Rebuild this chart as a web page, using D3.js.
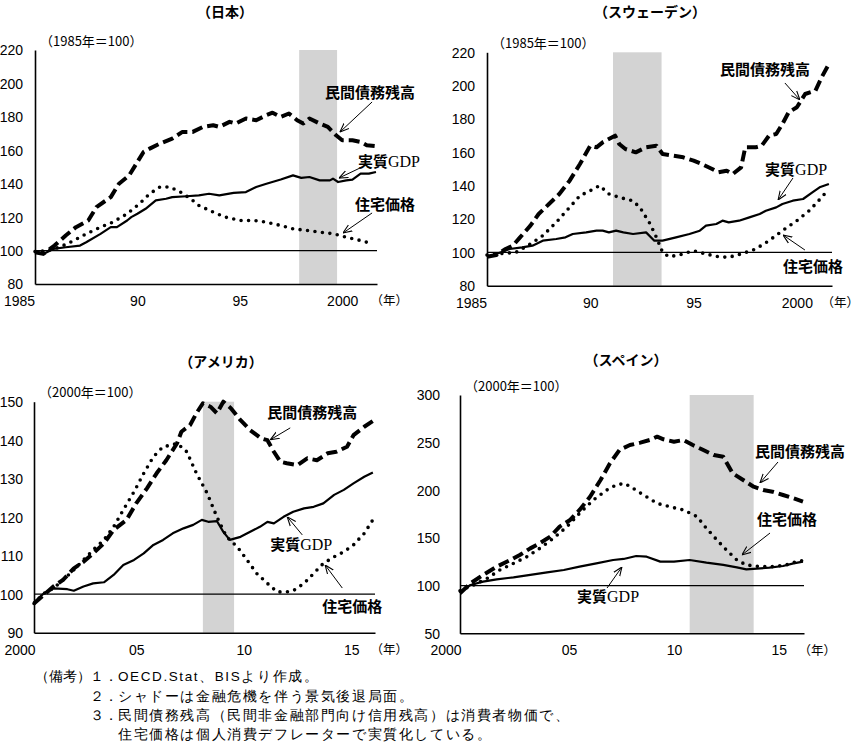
<!DOCTYPE html>
<html>
<head>
<meta charset="utf-8">
<script src="https://cdn.jsdelivr.net/npm/d3@7"></script>
<style>
body{margin:0;background:#fff;}
svg text{font-family:"Liberation Sans",Arial,sans-serif;}
.jp{font-family:"Noto Sans CJK JP",sans-serif;}
</style>
</head>
<body>
<script>
// 日本 (1985=100)
var jpDebt = [[1985.0,99],[1985.4,98],[1985.95,103],[1986.5,109],[1987.0,114],[1987.6,118],[1988.0,126],[1988.7,132],[1989.1,140],[1989.6,145],[1990.3,159],[1990.6,161],[1991.1,164],[1991.7,167],[1992.2,171],[1992.7,171],[1993.2,174],[1993.7,175],[1994.0,174],[1994.5,177],[1994.8,176],[1995.3,179],[1995.8,178],[1996.3,181],[1996.6,182.5],[1997.0,180],[1997.4,182],[1997.8,178],[1998.1,176],[1998.4,179],[1998.9,176],[1999.3,174],[1999.7,169],[2000.0,166],[2000.5,166],[2000.9,165],[2001.2,163],[2001.6,162.5]];
var jpGdp = [[1985.0,99.4],[1985.4,98],[1985.9,101],[1986.5,102],[1987.2,103],[1987.5,105],[1988.2,110],[1988.7,114],[1989.0,114],[1989.5,118],[1989.7,120],[1990.0,122],[1990.4,125],[1990.9,130],[1991.4,131],[1991.7,132],[1992.4,132.5],[1993.0,133],[1993.5,134],[1994.0,133],[1994.7,134.5],[1995.3,135],[1995.8,138],[1996.3,140],[1997.0,142.5],[1997.6,145],[1998.0,143.5],[1998.4,144],[1998.9,142],[1999.4,142],[1999.55,143],[1999.8,141],[2000.2,142],[2000.5,142.5],[2000.9,146],[2001.3,146],[2001.65,147]];
var jpHouse = [[1985.0,99.4],[1985.6,100],[1986.2,102],[1986.9,106],[1987.5,110],[1988.2,114],[1988.8,117],[1989.5,122],[1990.1,128],[1990.6,134],[1991.1,138],[1991.6,138],[1992.1,135],[1992.6,131],[1993.0,127],[1993.7,123],[1994.3,120],[1995.0,118],[1995.7,118],[1996.3,117],[1997.0,115],[1997.6,113],[1998.3,112],[1998.9,111],[1999.6,110],[2000.2,108],[2000.9,106],[2001.5,104]];
var jpShade = [1997.9, 1999.75];

// スウェーデン (1985=100)
var seDebt = [[1985.0,97.4],[1985.45,98.4],[1985.9,102],[1986.25,104],[1986.6,109],[1987.1,116],[1987.5,123],[1988.0,129],[1988.5,135],[1989.0,143],[1989.5,153],[1990.0,164],[1990.3,163],[1990.6,166],[1991.2,170],[1991.4,165],[1991.7,162],[1992.2,160],[1992.7,163],[1993.2,164],[1993.5,159],[1994.0,158],[1994.5,157],[1995.0,155],[1995.4,153],[1995.9,150],[1996.2,148],[1996.6,149],[1996.9,147],[1997.3,151],[1997.5,163],[1998.0,163],[1998.3,164],[1998.65,170],[1999.0,171],[1999.3,177],[1999.6,184],[2000.0,187],[2000.4,195],[2000.9,197],[2001.2,205],[2001.55,213]];
var seGdp = [[1985.0,97.4],[1985.45,99],[1986.1,102],[1986.7,103],[1987.2,104],[1987.7,107],[1988.35,108],[1988.8,109],[1989.15,111],[1989.8,112],[1990.3,113],[1990.6,113],[1990.9,112],[1991.25,113],[1991.6,112],[1992.07,111],[1992.7,112],[1993.1,107],[1993.5,107],[1994.15,109],[1994.8,111],[1995.3,113],[1995.6,116],[1996.1,117],[1996.4,119],[1996.7,118],[1997.2,119],[1997.7,121],[1998.2,123],[1998.5,125],[1999.0,127],[1999.3,129],[1999.8,131],[2000.3,132],[2000.75,136],[2001.1,139],[2001.55,141]];
var seHouse = [[1985.0,98.4],[1985.8,99.4],[1986.4,100],[1987.1,105],[1987.7,110],[1988.35,118],[1989.0,127],[1989.5,134],[1990.0,137],[1990.45,140],[1990.9,135],[1991.4,133],[1992.05,131],[1992.4,127],[1992.9,117],[1993.2,109],[1993.5,100],[1993.8,97.4],[1994.3,98.4],[1995.0,101],[1995.6,99],[1996.2,97.4],[1996.7,97],[1997.4,99.4],[1998.0,102],[1998.65,107],[1999.3,113],[2000.0,119],[2000.6,125],[2001.2,133],[2001.55,138]];
var seShade = [1991.1, 1993.45];

// アメリカ (2000=100)
var usDebt = [[2000.25,97.6],[2000.7,99.8],[2001.15,102],[2001.6,103.7],[2002.1,106.7],[2002.55,108.4],[2003.0,110.6],[2003.5,113.2],[2003.95,116.7],[2004.55,119.3],[2005.0,123.6],[2005.5,127.5],[2005.95,131.4],[2006.4,134.8],[2006.9,139.2],[2007.1,142.2],[2007.5,143.9],[2007.8,147],[2008.1,149.6],[2008.45,148.7],[2008.75,147],[2009.05,150],[2009.4,148.3],[2009.85,145.2],[2010.3,142.6],[2010.8,140.5],[2011.1,140],[2011.4,137],[2011.7,134.4],[2012.0,134],[2012.5,133.5],[2012.95,135.3],[2013.4,134.8],[2013.9,136.6],[2014.3,137],[2014.8,138.3],[2015.1,141.3],[2015.6,143.5],[2016.0,145]];
var usGdp = [[2000.25,97.8],[2000.7,100.2],[2001.15,101.5],[2001.8,101.3],[2002.1,100.9],[2002.55,102],[2003.0,102.8],[2003.5,103.1],[2003.95,105],[2004.4,107.6],[2004.9,108.9],[2005.35,110.6],[2005.8,112.8],[2006.25,114.1],[2006.7,115.8],[2007.2,117.1],[2007.65,118],[2008.05,119.3],[2008.35,118.8],[2008.75,119],[2009.05,116.2],[2009.35,114.1],[2009.85,114.9],[2010.3,116.2],[2010.75,117.5],[2011.1,118.8],[2011.4,118.4],[2011.85,120.1],[2012.3,121.4],[2012.8,122.3],[2013.25,122.7],[2013.7,123.6],[2014.2,125.8],[2014.65,127.1],[2015.1,128.8],[2015.6,130.5],[2016.0,131.6]];
var usHouse = [[2000.25,97.6],[2000.7,100.2],[2001.15,101.5],[2001.6,103.7],[2002.1,106.3],[2002.55,108.9],[2003.0,111.5],[2003.5,114.1],[2003.95,117.5],[2004.4,121.9],[2004.9,126.6],[2005.35,131.4],[2005.8,135.7],[2006.25,138.3],[2006.6,138.7],[2006.9,139.2],[2007.35,137],[2007.8,131.4],[2008.3,126.2],[2008.75,120.1],[2009.2,114.9],[2009.7,112.3],[2010.15,108.9],[2010.6,105.4],[2011.1,102.8],[2011.55,100.6],[2012.0,100.6],[2012.3,100.9],[2012.8,102.8],[2013.25,105.4],[2013.7,108],[2014.2,109.7],[2014.65,111],[2015.1,112.8],[2015.6,115.8],[2016.0,119.3]];
var usShade = [2008.1, 2009.55];

// スペイン (2000=100)
var esDebt = [[1999.8,91.9],[2000.3,102.4],[2000.9,111.2],[2001.55,119.9],[2002.2,126.9],[2002.65,132.1],[2003.15,139.1],[2003.6,144.4],[2004.1,151.4],[2004.55,161.9],[2005.05,168.9],[2005.5,179.4],[2006.0,193.3],[2006.5,210.8],[2006.95,228.3],[2007.4,242.3],[2007.9,247.5],[2008.4,250],[2008.85,252.8],[2009.2,256.3],[2009.5,253.5],[2010.0,251],[2010.45,252.8],[2010.9,247.5],[2011.4,242.3],[2011.9,237],[2012.35,235.3],[2012.8,217.8],[2013.3,210.8],[2013.8,203.8],[2014.25,200.3],[2014.7,198.6],[2015.2,195.1],[2015.7,191.6],[2016.15,188.1]];
var esGdp = [[1999.8,93.7],[2000.3,100.7],[2000.9,104.2],[2001.55,106.6],[2002.35,108.7],[2003.15,111.2],[2003.95,114],[2004.75,116.4],[2005.5,119.9],[2006.3,123.4],[2007.1,126.9],[2007.6,128],[2008.2,131.1],[2008.7,130.4],[2009.35,125.2],[2010.0,125.2],[2010.75,126.9],[2011.55,124.1],[2012.35,121.7],[2013.0,119.2],[2013.45,117.1],[2013.95,117.8],[2014.55,118.9],[2015.2,120.6],[2015.7,123.4],[2016.15,125.2]];
var esHouse = [[1999.8,94.7],[2000.45,100.7],[2001.1,107.7],[2001.7,116.4],[2002.35,123.4],[2003.0,130.4],[2003.6,139.1],[2004.25,149.6],[2004.9,161.9],[2005.5,175.9],[2006.15,189.8],[2006.8,200.3],[2007.25,205.6],[2007.65,207.3],[2008.05,202.1],[2008.55,195.1],[2009.2,186.3],[2009.8,182.8],[2010.45,179.4],[2011.1,172.4],[2011.55,160.1],[2012.05,147.9],[2012.5,137.4],[2013.0,126.9],[2013.45,121.7],[2014.1,119.9],[2014.7,119.9],[2015.35,121.7],[2015.85,125.2],[2016.15,126.2]];
var esShade = [2010.75, 2013.8];

// 目盛
var jpYTicks = [80,100,120,140,160,180,200,220];
var usYTicks = [90,100,110,120,130,140,150];
var esYTicks = [50,100,150,200,250,300];
var earlyXTicks = [1985,1990,1995,2000];
var earlyXLabels = ["1985","90","95","2000"];
var lateXTicks = [2000,2005,2010,2015];
var lateXLabels = ["2000","05","10","15"];

var notes = [
    ["（備考）","１．","OECD.Stat、BISより作成。"],
    ["","２．","シャドーは金融危機を伴う景気後退局面。"],
    ["","３．","民間債務残高（民間非金融部門向け信用残高）は消費者物価で、"],
    ["","","住宅価格は個人消費デフレーターで実質化している。"]
];

var panels = [
    {title:"（日本）", tx:225, ty:12, unit:"（1985年＝100）", nenX:408,
     xDomain:[1985,2001.7], xRange:[35,377], yDomain:[80,220], yRange:[284,50], yPad:12,
     yTicks:jpYTicks, xTicks:earlyXTicks, xLabels:earlyXLabels, shade:jpShade,
     debt:jpDebt, gdp:jpGdp, house:jpHouse,
     notes:[{t:"民間債務残高", at:[1999.16,194.3], from:[2001.46,188.9], to:[1999.89,170.9]},
            {t:"実質", g:"GDP", at:[2000.77,153], from:[2000.87,149.4], to:[1999.84,143.4]},
            {t:"住宅価格", at:[2000.62,127.3], from:[2001.46,122.5], to:[2000.04,110.5]}]},
    {title:"（スウェーデン）", tx:650, ty:12, unit:"（1985年＝100）", nenX:859,
     xDomain:[1985,2001.7], xRange:[487,832], yDomain:[80,220], yRange:[285.7,52.3], yPad:12,
     yTicks:jpYTicks, xTicks:earlyXTicks, xLabels:earlyXLabels, shade:seShade,
     debt:seDebt, gdp:seGdp, house:seHouse,
     notes:[{t:"民間債務残高", at:[1996.28,209.4], from:[1999.42,201.6], to:[2000.15,191.4]},
            {t:"実質", g:"GDP", at:[1998.46,149.4], from:[1999.81,144.6], to:[1999.09,131.4]},
            {t:"住宅価格", at:[1999.33,91.2], from:[2000.39,101.4], to:[1999.33,110.4]}]},
    {title:"（アメリカ）", tx:221, ty:362, unit:"（2000年＝100）", nenX:408,
     xDomain:[2000.25,2016.1], xRange:[34,375], yDomain:[90,150], yRange:[632.7,401.7], yPad:11,
     yTicks:usYTicks, xTicks:lateXTicks.slice(1), xLabels:lateXLabels.slice(1), first:"2000", shade:usShade,
     debt:usDebt, gdp:usGdp, house:usHouse,
     notes:[{t:"民間債務残高", at:[2011.09,147.1], from:[2012.16,143.2], to:[2011.23,140.1]},
            {t:"実質", g:"GDP", at:[2011.23,112.8], from:[2012.72,115.4], to:[2012.02,120.1]},
            {t:"住宅価格", at:[2013.65,96.7], from:[2014.58,101.6], to:[2013.78,107.6]}]},
    {title:"（スペイン）", tx:626, ty:360, unit:"（2000年＝100）", nenX:836,
     xDomain:[1999.8,2016.2], xRange:[460,804], yDomain:[50,300], yRange:[633.3,395], yPad:20,
     yTicks:esYTicks, xTicks:lateXTicks.slice(1), xLabels:lateXLabels.slice(1), first:"2000", shade:esShade,
     debt:esDebt, gdp:esGdp, house:esHouse,
     notes:[{t:"民間債務残高", at:[2013.86,240.2], from:[2014.96,229.7], to:[2014.10,207.7]},
            {t:"住宅価格", at:[2013.96,168.9], from:[2014.58,155.2], to:[2013.24,132.2]},
            {t:"実質", g:"GDP", at:[2005.38,88.1], from:[2006.81,97.5], to:[2007.52,119.6]}]}
];

function drawPanel(svg, p){
    var x = d3.scaleLinear().domain(p.xDomain).range(p.xRange);
    var y = d3.scaleLinear().domain(p.yDomain).range(p.yRange);
    var g = svg.append("g");
    var x0 = p.xRange[0], top = p.yRange[1], bottom = p.yRange[0];

    //シャドー
    g.append("rect")
        .attr("x", x(p.shade[0]))
        .attr("width", x(p.shade[1]) - x(p.shade[0]))
        .attr("y", top)
        .attr("height", bottom - top)
        .attr("fill", "#d3d3d3");

    //100の線
    g.append("line")
        .attr("x1", x0).attr("x2", p.xRange[1])
        .attr("y1", y(100)).attr("y2", y(100))
        .attr("stroke", "#000").attr("stroke-width", 1.2);

    //軸
    var ya = g.append("g")
        .attr("transform", "translate(" + x0 + ",0)")
        .call(d3.axisLeft(y).tickValues(p.yTicks).tickSize(0).tickSizeOuter(0).tickPadding(p.yPad));
    ya.selectAll("text").attr("font-size", 14).attr("font-family", "Liberation Sans").attr("dy", "0.35em");
    var xa = g.append("g")
        .attr("transform", "translate(0," + bottom + ")")
        .call(d3.axisBottom(x).tickValues(p.xTicks)
            .tickFormat(function(d, i){ return p.xLabels[i]; })
            .tickSize(0).tickSizeOuter(0));
    xa.selectAll("text").attr("font-size", 14).attr("font-family", "Liberation Sans")
        .attr("y", 17).attr("dy", "0.35em");
    g.selectAll(".domain").attr("stroke", "#000").attr("stroke-width", 1.6);
    if(p.first){
        g.append("text").attr("x", x0 - 14).attr("y", bottom + 17).attr("dy", "0.35em")
            .attr("text-anchor", "middle").attr("font-size", 14).text(p.first);
    } else {
        xa.select(".tick text").attr("dx", -16);
    }

    //系列
    var line = d3.line().x(function(d){ return x(d[0]); }).y(function(d){ return y(d[1]); });
    g.append("path").datum(p.gdp).attr("d", line)
        .attr("fill", "none").attr("stroke", "#000").attr("stroke-width", 2.2).attr("stroke-linejoin", "round");
    g.append("path").datum(p.house).attr("d", line)
        .attr("fill", "none").attr("stroke", "#000").attr("stroke-width", 3.6)
        .attr("stroke-dasharray", "0,7.5").attr("stroke-linecap", "round");
    g.append("path").datum(p.debt).attr("d", line)
        .attr("fill", "none").attr("stroke", "#000").attr("stroke-width", 4)
        .attr("stroke-dasharray", "11,5").attr("stroke-linejoin", "round");

    //タイトル
    g.append("text").attr("class", "jp").attr("x", p.tx).attr("y", p.ty).attr("dy", "0.35em")
        .attr("text-anchor", "middle").attr("font-size", 14).attr("font-weight", "bold").text(p.title);
    g.append("text").attr("class", "jp").attr("x", x0 + 5).attr("y", top - 9).attr("dy", "0.35em")
        .attr("font-size", 13).text(p.unit);
    g.append("text").attr("class", "jp").attr("x", p.nenX).attr("y", bottom + 17).attr("dy", "0.35em")
        .attr("text-anchor", "end").attr("font-size", 12.5).text("（年）");

    //ラベルと矢印
    p.notes.forEach(function(n){
        var t = g.append("text").attr("class", "jp")
            .attr("x", x(n.at[0])).attr("y", y(n.at[1])).attr("dy", "0.35em")
            .attr("font-size", 15).attr("font-weight", "bold");
        t.append("tspan").text(n.t);
        if(n.g) t.append("tspan").attr("font-family", "Liberation Serif").attr("font-weight", "normal")
            .attr("font-size", 16).text(n.g);
        g.append("line")
            .attr("x1", x(n.from[0])).attr("y1", y(n.from[1]))
            .attr("x2", x(n.to[0])).attr("y2", y(n.to[1]))
            .attr("stroke", "#000").attr("stroke-width", 1)
            .attr("marker-end", "url(#arr)");
    });
}

function myfun(){
    var svg = d3.select("body").append("svg")
        .attr("width", 861).attr("height", 744)
        .style("background", "#fff");
    svg.append("defs").append("marker")
        .attr("id", "arr").attr("viewBox", "0 0 10 10")
        .attr("refX", 10).attr("refY", 5)
        .attr("markerUnits", "userSpaceOnUse")
        .attr("markerWidth", 9).attr("markerHeight", 9)
        .attr("orient", "auto")
        .append("path").attr("d", "M0,1 L10,5 L0,9")
        .attr("fill", "none").attr("stroke", "#000").attr("stroke-width", 1.2);

    panels.forEach(function(p){ drawPanel(svg, p); });

    //備考
    var rowY = [676, 696, 715, 734];
    var fn = svg.append("g").attr("class", "jp").attr("font-size", 13.5);
    notes.forEach(function(r, i){
        fn.append("text").attr("x", 35).attr("y", rowY[i]).attr("dy", "0.35em").text(r[0]);
        fn.append("text").attr("x", 90).attr("y", rowY[i]).attr("dy", "0.35em").text(r[1]);
        fn.append("text").attr("x", 118).attr("y", rowY[i]).attr("dy", "0.35em")
            .attr("letter-spacing", 1.6).text(r[2]);
    });
}
window.onload = myfun;
</script>
</body>
</html>
